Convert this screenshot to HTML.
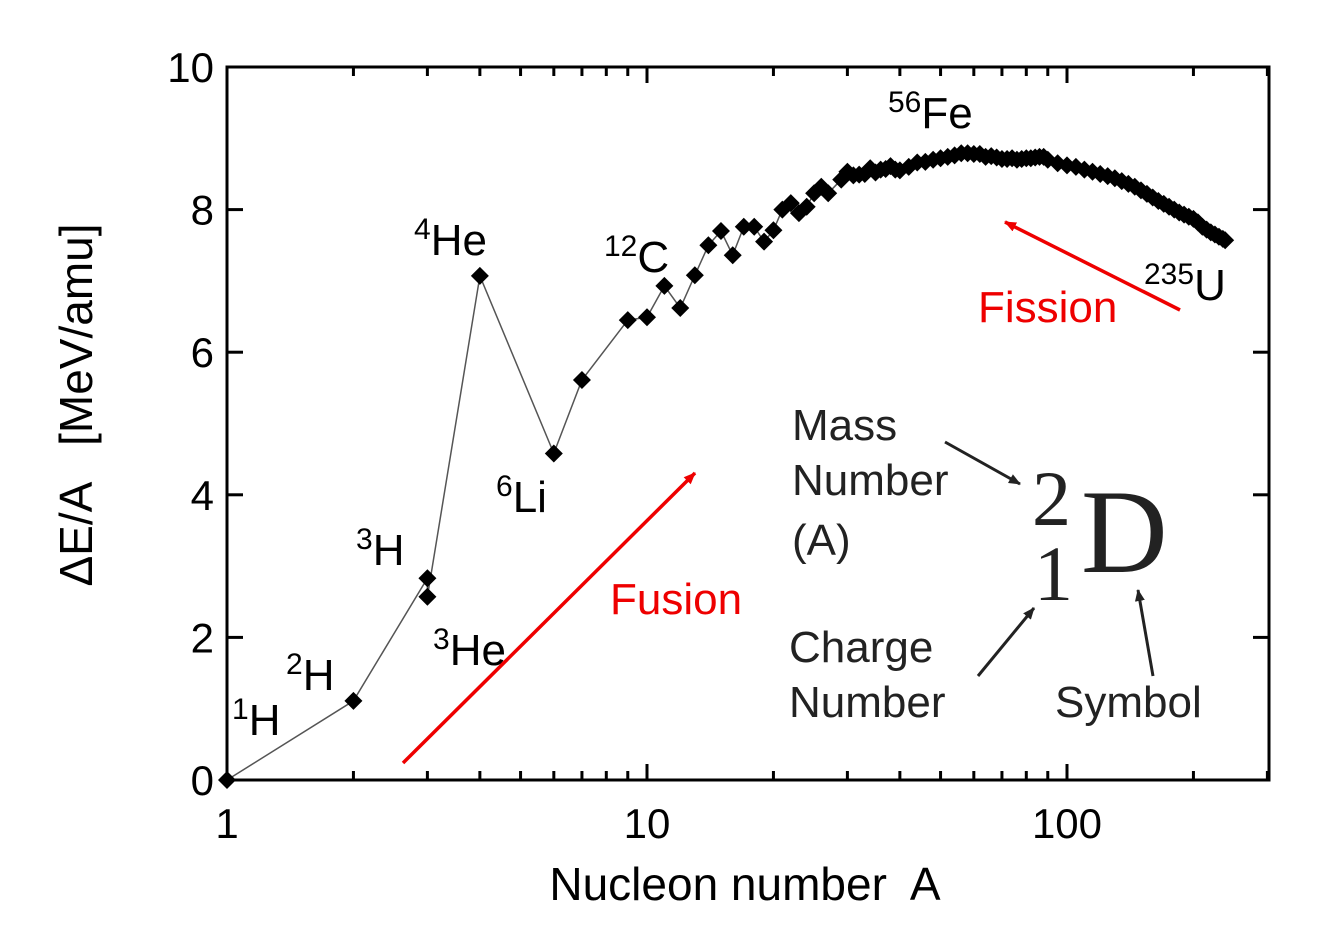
<!DOCTYPE html>
<html><head><meta charset="utf-8"><style>
body{margin:0;background:#fff;}
svg text{font-family:"Liberation Sans",Arial,sans-serif;}
</style></head><body>
<svg id="chart" width="1334" height="942" viewBox="0 0 1334 942" xmlns="http://www.w3.org/2000/svg">
<defs>
<marker id="ahR" markerWidth="12" markerHeight="10" refX="11" refY="5" orient="auto" markerUnits="userSpaceOnUse"><path d="M0,0 L12,5 L0,10 Z" fill="#e00"/></marker>
<marker id="ahK" markerWidth="12" markerHeight="10" refX="11" refY="5" orient="auto" markerUnits="userSpaceOnUse"><path d="M0,0 L12,5 L0,10 Z" fill="#222"/></marker>
</defs>
<g id="axes"></g>
<g id="series"></g>
<g id="labels">
<text x="888" y="128" font-size="44"><tspan font-size="30" dy="-16">56</tspan><tspan dy="16">Fe</tspan></text>
<text x="414" y="255" font-size="44"><tspan font-size="30" dy="-16">4</tspan><tspan dy="16">He</tspan></text>
<text x="604" y="272" font-size="44"><tspan font-size="30" dy="-16">12</tspan><tspan dy="16">C</tspan></text>
<text x="1144" y="300" font-size="44"><tspan font-size="30" dy="-16">235</tspan><tspan dy="16">U</tspan></text>
<text x="496" y="512" font-size="44"><tspan font-size="30" dy="-16">6</tspan><tspan dy="16">Li</tspan></text>
<text x="356" y="565" font-size="44"><tspan font-size="30" dy="-16">3</tspan><tspan dy="16">H</tspan></text>
<text x="433" y="665" font-size="44"><tspan font-size="30" dy="-16">3</tspan><tspan dy="16">He</tspan></text>
<text x="286" y="690" font-size="44"><tspan font-size="30" dy="-16">2</tspan><tspan dy="16">H</tspan></text>
<text x="232" y="735" font-size="44"><tspan font-size="30" dy="-16">1</tspan><tspan dy="16">H</tspan></text>
<text x="978" y="322" font-size="44" fill="#e00">Fission</text>
<text x="610" y="614" font-size="44" fill="#e00">Fusion</text>
<line x1="403" y1="763" x2="695" y2="473" stroke="#e00" stroke-width="3.5" marker-end="url(#ahR)"/>
<line x1="1180" y1="310" x2="1005" y2="222" stroke="#e00" stroke-width="3.5" marker-end="url(#ahR)"/>
<g fill="#222">
<text x="792" y="440" font-size="44">Mass</text>
<text x="792" y="495" font-size="44">Number</text>
<text x="792" y="555" font-size="44">(A)</text>
<text x="789" y="662" font-size="44">Charge</text>
<text x="789" y="717" font-size="44">Number</text>
<text x="1055" y="717" font-size="44">Symbol</text>
<text x="1032" y="525" font-size="78" style="font-family:'Liberation Serif',serif">2</text>
<text x="1034" y="600" font-size="78" style="font-family:'Liberation Serif',serif">1</text>
<text x="1081" y="572" font-size="120" style="font-family:'Liberation Serif',serif">D</text>
<line x1="945" y1="442" x2="1020" y2="484" stroke="#222" stroke-width="3" marker-end="url(#ahK)"/>
<line x1="978" y1="676" x2="1034" y2="608" stroke="#222" stroke-width="3" marker-end="url(#ahK)"/>
<line x1="1153" y1="676" x2="1138" y2="590" stroke="#222" stroke-width="3" marker-end="url(#ahK)"/>
</g>
<text x="745" y="900" font-size="46" text-anchor="middle" xml:space="preserve">Nucleon number  A</text>
<text transform="translate(92,405) rotate(-90)" font-size="46" text-anchor="middle" xml:space="preserve">ΔE/A   [MeV/amu]</text>
</g>
</svg>
<script>
const massNumbers = [1,2,3,3,4,6,7,9,10,11,12,13,14,15,16,17,18,19,20,21,22,23,24,25,26,27,29,30,31,32,33,34,35,36,37,38,39,40,42,44,46,48,50,52,54,56,58,60,62,64,66,68,70,72,74,76,78,80,82,84,86,88,90,95,100,105,110,115,120,125,130,135,140,145,150,155,160,165,170,175,180,185,190,195,200,205,210,215,220,225,230,235,238];
const bindingEnergy = [0,1.11,2.83,2.57,7.07,4.58,5.61,6.45,6.49,6.93,6.62,7.08,7.50,7.70,7.36,7.76,7.76,7.55,7.71,8.00,8.09,7.95,8.04,8.23,8.32,8.23,8.42,8.53,8.48,8.49,8.50,8.58,8.52,8.56,8.57,8.61,8.56,8.55,8.60,8.66,8.67,8.70,8.72,8.74,8.76,8.79,8.79,8.78,8.78,8.74,8.75,8.73,8.71,8.71,8.72,8.70,8.71,8.72,8.72,8.73,8.74,8.74,8.70,8.65,8.62,8.60,8.56,8.53,8.50,8.47,8.44,8.40,8.36,8.32,8.27,8.22,8.17,8.12,8.08,8.04,8.00,7.96,7.93,7.90,7.87,7.82,7.76,7.72,7.68,7.65,7.62,7.59,7.57];
const yTicks = [0,2,4,6,8,10];
const xTickLabels = [1,10,100];

const NS = "http://www.w3.org/2000/svg";
const L = 227, R = 1269, T = 67, B = 780;
const xs = a => L + Math.log10(a) * 420;
const ys = v => B - (v / 10) * (B - T);
function mk(tag, attrs, parent) {
  const e = document.createElementNS(NS, tag);
  for (const k in attrs) e.setAttribute(k, attrs[k]);
  parent.appendChild(e);
  return e;
}
const axes = document.getElementById('axes');
const frame = mk('rect', {x: L, y: T, width: R - L, height: B - T, fill: 'none', stroke: '#000', 'stroke-width': 3}, axes);


yTicks.forEach(v => {
  const y = ys(v);
  mk('line', {x1: L, y1: y, x2: L + 16, y2: y, stroke: '#000', 'stroke-width': 3}, axes);
  mk('line', {x1: R, y1: y, x2: R - 16, y2: y, stroke: '#000', 'stroke-width': 3}, axes);
  const t = mk('text', {x: 214, y: y + 15, 'font-size': 42, 'text-anchor': 'end'}, axes);
  t.textContent = v;
  
  
});
for (let d = 1; d <= 100; d *= 10) {
  for (let m = 1; m <= 9; m++) {
    const a = d * m;
    const x = xs(a);
    if (x > R) break;
    const len = m === 1 ? 16 : 9;
    mk('line', {x1: x, y1: B, x2: x, y2: B - len, stroke: '#000', 'stroke-width': 3}, axes);
    mk('line', {x1: x, y1: T, x2: x, y2: T + len, stroke: '#000', 'stroke-width': 3}, axes);
  }
}
xTickLabels.forEach(v => {
  const t = mk('text', {x: xs(v), y: 838, 'font-size': 42, 'text-anchor': 'middle'}, axes);
  t.textContent = v;
  
  
});
const series = document.getElementById('series');
const pts = massNumbers.map((a, i) => xs(a).toFixed(1) + ',' + ys(bindingEnergy[i]).toFixed(1)).join(' ');
const line = mk('polyline', {points: pts, fill: 'none', stroke: '#555', 'stroke-width': 1.5}, series);


massNumbers.forEach((a, i) => {
  const x = xs(a), y = ys(bindingEnergy[i]), s = 9;
  const p = mk('path', {d: `M${x},${y - s} L${x + s},${y} L${x},${y + s} L${x - s},${y} Z`, fill: '#000'}, series);
  
  
});
</script>
</body></html>
